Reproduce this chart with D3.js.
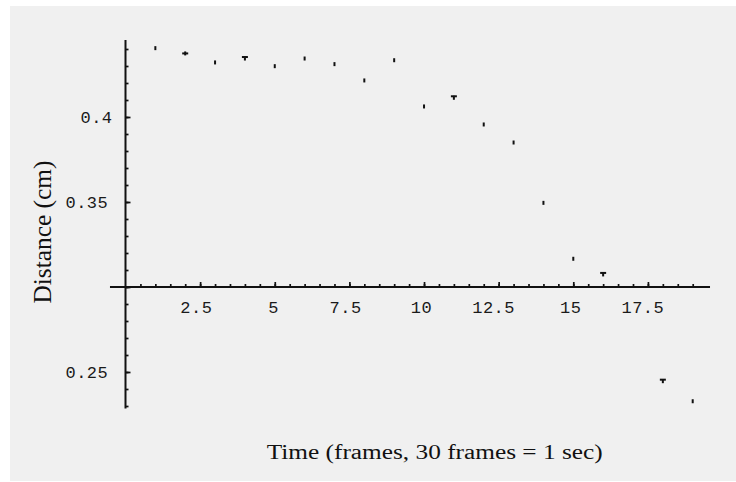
<!DOCTYPE html>
<html>
<head>
<meta charset="utf-8">
<script src="https://cdn.jsdelivr.net/npm/d3@7"></script>
<style>
  html, body { margin: 0; padding: 0; background: #ffffff; }
  svg { display: block; }
</style>
</head>
<body>
<svg id="chart" width="736" height="482"></svg>
<script>
// ---- data ----
const frames = [1, 2, 3, 4, 5, 6, 7, 8, 9, 10, 11, 12, 13, 14, 15, 16, 18, 19];
const distances = [0.4405, 0.4374, 0.4321, 0.4344, 0.4299, 0.4344, 0.4311, 0.4215, 0.4334,
                   0.4062, 0.4113, 0.3956, 0.3850, 0.3495, 0.3166, 0.3074, 0.2446, 0.2328];
const xTickValues = [2.5, 5, 7.5, 10, 12.5, 15, 17.5];
const xTickLabels = ["2.5", "5", "7.5", "10", "12.5", "15", "17.5"];
const yTickValues = [0.25, 0.35, 0.4];
const yTickLabels = ["0.25", "0.35", "0.4"];
const xTitle = "Time (frames, 30 frames = 1 sec)";
const yTitle = "Distance (cm)";

// ---- drawing ----
const svg = d3.select("#chart");
svg.append("rect").attr("x", 10).attr("y", 6).attr("width", 726).attr("height", 475).attr("fill", "#f0f0f0");

const x = d3.scaleLinear().domain([0, 19]).range([125.5, 692.7]);
const y = d3.scaleLinear().domain([0.3, 0.4]).range([287, 117]);
const ink = "#111";

// minor / major tick values
const xMinor = d3.range(1, 39).map(i => i * 0.5);
const yMinor = d3.range(23, 45).map(i => i / 100);
const yMajor = [0.25, 0.3, 0.35, 0.4];

function styleAxis(g) {
  g.select(".domain").remove();
  g.selectAll(".tick line").attr("stroke", ink).attr("stroke-width", 1.7);
  g.selectAll(".tick text").remove();
}

// X axis ticks (upwards)
svg.append("g").attr("transform", `translate(0,${y(0.3)})`)
  .call(d3.axisTop(x).tickValues(xMinor).tickSize(3).tickFormat(""))
  .call(styleAxis);
svg.append("g").attr("transform", `translate(0,${y(0.3)})`)
  .call(d3.axisTop(x).tickValues(xTickValues).tickSize(5).tickFormat(""))
  .call(styleAxis);
// Y axis ticks (to the right)
svg.append("g").attr("transform", `translate(${x(0)},0)`)
  .call(d3.axisRight(y).tickValues(yMinor).tickSize(3).tickFormat(""))
  .call(styleAxis);
svg.append("g").attr("transform", `translate(${x(0)},0)`)
  .call(d3.axisRight(y).tickValues(yMajor).tickSize(5).tickFormat(""))
  .call(styleAxis);

// axis lines
svg.append("line")
  .attr("x1", x(-0.52)).attr("x2", x(19.58))
  .attr("y1", y(0.3)).attr("y2", y(0.3))
  .attr("stroke", ink).attr("stroke-width", 2);
svg.append("line")
  .attr("x1", x(0)).attr("x2", x(0))
  .attr("y1", y(0.4453)).attr("y2", y(0.2286))
  .attr("stroke", ink).attr("stroke-width", 2);

// tick labels (monospaced, Mathematica-like)
const monoFont = "'Liberation Mono', 'DejaVu Sans Mono', monospace";
svg.append("g").selectAll("text").data(xTickValues).join("text")
  .attr("x", (d, i) => x(d) - xTickLabels[i].length * 6.6)
  .attr("y", 313)
  .attr("font-family", monoFont).attr("font-size", 17).attr("letter-spacing", 0.45)
  .attr("fill", "#1a1a1a")
  .text((d, i) => xTickLabels[i]);
svg.append("g").selectAll("text").data(yTickValues).join("text")
  .attr("x", (d, i) => x(0) - yTickLabels[i].length * 15)
  .attr("y", d => y(d) + 6)
  .attr("font-family", monoFont).attr("font-size", 17).attr("letter-spacing", 0.45)
  .attr("fill", "#1a1a1a")
  .text((d, i) => yTickLabels[i]);

// axis titles
const serif = "'Liberation Serif', 'DejaVu Serif', serif";
svg.append("text")
  .attr("x", 434.7).attr("y", 459)
  .attr("text-anchor", "middle")
  .attr("font-family", serif).attr("font-size", 20)
  .attr("textLength", 336).attr("lengthAdjust", "spacingAndGlyphs")
  .attr("fill", ink)
  .text(xTitle);
svg.append("text")
  .attr("transform", "translate(51,232) rotate(-90)")
  .attr("text-anchor", "middle")
  .attr("font-family", serif).attr("font-size", 26)
  .attr("textLength", 143).attr("lengthAdjust", "spacingAndGlyphs")
  .attr("fill", ink)
  .text(yTitle);

// points: small dashes, as in the reference
const pts = frames.map((f, i) => ({ f, v: distances[i] }));
const doubleMarks = { 2: "plus", 4: "tee", 11: "tee", 16: "tee", 18: "tee" };
const pg = svg.append("g").attr("fill", ink);
pg.selectAll("rect.v").data(pts).join("rect").attr("class", "v")
  .attr("x", d => x(d.f) - 1).attr("y", d => y(d.v) - 2)
  .attr("width", 2).attr("height", 4);
pg.selectAll("rect.h").data(pts.filter(d => doubleMarks[d.f])).join("rect").attr("class", "h")
  .attr("x", d => x(d.f) - 3)
  .attr("y", d => doubleMarks[d.f] === "plus" ? y(d.v) - 1 : y(d.v) - 2.5)
  .attr("width", 6).attr("height", 2);
</script>
</body>
</html>
